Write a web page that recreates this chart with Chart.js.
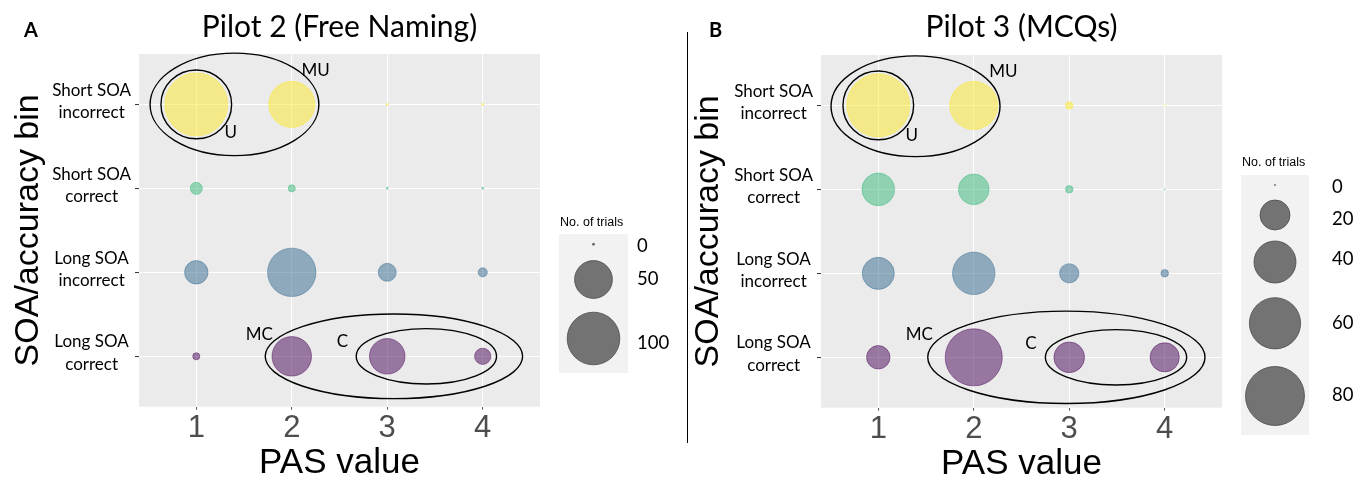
<!DOCTYPE html>
<html>
<head>
<meta charset="utf-8">
<script src="https://cdn.jsdelivr.net/npm/chart.js@4.4.0/dist/chart.umd.min.js"></script>
<style>
  html, body { margin: 0; padding: 0; background: #ffffff; }
  #wrap { position: relative; width: 1367px; height: 482px; overflow: hidden; }
  #wrap canvas { position: absolute; top: 0; }
  #chartA { left: 0; }
  #chartB { left: 688px; }
  #divider { position: absolute; left: 687px; top: 32px; width: 1.4px; height: 411px; background: #000; }
</style>
</head>
<body>
<div id="wrap">
  <canvas id="chartA" width="688" height="482"></canvas>
  <div id="divider"></div>
  <canvas id="chartB" width="679" height="482"></canvas>
</div>
<script>
// PAS ratings on the x axis and the SOA/accuracy bins on the y axis (top to bottom)
const pasValues = [1, 2, 3, 4];
const binLabels = [
  ['Short SOA', 'incorrect'],
  ['Short SOA', 'correct'],
  ['Long SOA', 'incorrect'],
  ['Long SOA', 'correct']
];

// Number of trials per bin, one entry per PAS value (1-4)
const pilot2ShortIncorrect = [145, 76, 0, 0];
const pilot2ShortCorrect   = [4, 1, 0, 0];
const pilot2LongIncorrect  = [18, 84, 10, 2];
const pilot2LongCorrect    = [1, 55, 44, 8];

const pilot3ShortIncorrect = [92, 53, 1, 0];
const pilot3ShortCorrect   = [24, 21, 1, 0];
const pilot3LongIncorrect  = [23, 41, 8, 1];
const pilot3LongCorrect    = [12, 75, 21, 19];

// Size legend breaks
const pilot2SizeBreaks = [0, 50, 100];
const pilot3SizeBreaks = [0, 20, 40, 60, 80];

// viridis colours for the four bins
const binColours = ['253,231,37', '53,183,121', '49,104,142', '68,1,84'];

const CALIBRI_LIKE = 'Lato, "Open Sans", sans-serif';
const ARIAL_LIKE = '"Liberation Sans", Arial, sans-serif';

// bubble radius grows with the square root of the trial count (area scale)
function areaRadius(base, slope) {
  return n => base + slope * Math.sqrt(n);
}

function buildDatasets(rows, radius) {
  return rows.map((counts, b) => ({
    label: binLabels[b].join(' '),
    data: pasValues.map((x, i) => ({ x: x, y: b + 1, r: radius(counts[i]), n: counts[i] })),
    backgroundColor: 'rgba(' + binColours[b] + ',0.5)',
    borderColor: 'rgba(' + binColours[b] + ',0.55)',
    borderWidth: 0.8,
    hoverRadius: 0
  }));
}

const panelPlugin = {
  id: 'panelDecor',
  beforeDraw(chart) {
    const { ctx, chartArea: a } = chart;
    ctx.save();
    ctx.fillStyle = '#ebebeb';
    ctx.fillRect(a.left, a.top, a.right - a.left, a.bottom - a.top);
    ctx.restore();
  },
  afterDatasetsDraw(chart, args, opts) {
    const { ctx, scales: { x, y } } = chart;
    const unitX = Math.abs(x.getPixelForValue(2) - x.getPixelForValue(1));
    const unitY = Math.abs(y.getPixelForValue(2) - y.getPixelForValue(1));
    ctx.save();
    ctx.strokeStyle = '#000';
    ctx.lineWidth = 1.4;
    opts.groups.forEach(g => {
      ctx.beginPath();
      ctx.ellipse(x.getPixelForValue(g.cx), y.getPixelForValue(g.cy), g.rx * unitX, g.ry * unitY, 0, 0, Math.PI * 2);
      ctx.stroke();
    });
    ctx.fillStyle = '#000';
    ctx.font = '17px ' + CALIBRI_LIKE;
    ctx.textAlign = 'center';
    ctx.textBaseline = 'middle';
    opts.groupLabels.forEach(l => {
      ctx.fillText(l.text, x.getPixelForValue(l.x), y.getPixelForValue(l.y));
    });
    ctx.restore();
  },
  afterDraw(chart, args, opts) {
    const { ctx, chartArea: a } = chart;
    ctx.save();
    // panel letter and title
    ctx.fillStyle = '#000';
    ctx.textBaseline = 'alphabetic';
    ctx.textAlign = 'left';
    ctx.font = 'bold 20px ' + CALIBRI_LIKE;
    ctx.fillText(opts.letter, opts.letterX, 37);
    ctx.textAlign = 'center';
    ctx.font = '30px ' + CALIBRI_LIKE;
    ctx.fillText(opts.title, (a.left + a.right) / 2, 37);

    // size legend
    const lg = opts.legend;
    ctx.textAlign = 'left';
    ctx.font = '12.5px ' + ARIAL_LIKE;
    ctx.fillText('No. of trials', lg.left + 1, lg.titleBaseline);
    ctx.fillStyle = '#f2f2f2';
    ctx.fillRect(lg.left, lg.top, lg.width, lg.height);
    const cx = lg.left + lg.width / 2;
    lg.breaks.forEach((v, i) => {
      ctx.beginPath();
      ctx.arc(cx, lg.keyY[i], opts.radius(v), 0, Math.PI * 2);
      ctx.fillStyle = '#737373';
      ctx.fill();
      ctx.lineWidth = 0.8;
      ctx.strokeStyle = '#4a4a4a';
      ctx.stroke();
      ctx.fillStyle = '#000';
      ctx.font = '18.5px ' + CALIBRI_LIKE;
      ctx.textBaseline = 'middle';
      ctx.fillText(String(v), lg.labelX, lg.labelY[i]);
    });
    ctx.restore();
  }
};

function makeChart(canvasId, rows, radius, layout, decor) {
  return new Chart(document.getElementById(canvasId), {
    type: 'bubble',
    data: { datasets: buildDatasets(rows, radius) },
    plugins: [panelPlugin],
    options: {
      responsive: false,
      animation: false,
      devicePixelRatio: 1,
      events: [],
      clip: false,
      layout: { padding: { left: 0, right: layout.right, top: layout.top, bottom: 0 } },
      plugins: {
        legend: { display: false },
        tooltip: { enabled: false },
        panelDecor: decor
      },
      scales: {
        x: {
          type: 'linear',
          min: 0.4,
          max: 4.6,
          afterBuildTicks: s => { s.ticks = pasValues.map(v => ({ value: v })); },
          afterFit: s => { s.height = layout.xHeight; },
          grid: { color: '#ffffff', lineWidth: 1.1, tickLength: 3, tickColor: '#555555', tickWidth: 1 },
          border: { display: false },
          ticks: {
            color: '#4d4d4d',
            padding: 3,
            font: { family: ARIAL_LIKE, size: 31, lineHeight: 1.0 },
            callback: v => String(v)
          },
          title: {
            display: true,
            text: 'PAS value',
            color: '#000',
            font: { family: ARIAL_LIKE, size: 35, lineHeight: 1.0 },
            padding: { top: 0, bottom: layout.xTitlePad }
          }
        },
        y: {
          type: 'linear',
          reverse: true,
          min: 0.4,
          max: 4.6,
          afterBuildTicks: s => { s.ticks = binLabels.map((l, i) => ({ value: i + 1 })); },
          afterFit: s => { s.width = layout.yWidth; },
          grid: { color: '#ffffff', lineWidth: 1.1, tickLength: 4, tickColor: '#333333', tickWidth: 1 },
          border: { display: false },
          ticks: {
            color: '#000',
            padding: 4,
            crossAlign: 'center',
            labelOffset: -3,
            font: { family: CALIBRI_LIKE, size: 17, lineHeight: 1.33 },
            callback: v => binLabels[v - 1]
          },
          title: {
            display: true,
            text: 'SOA/accuracy bin',
            color: '#000',
            font: { family: ARIAL_LIKE, size: 34, lineHeight: 1.0 },
            padding: { top: layout.yTitlePad, bottom: 0 }
          }
        }
      }
    }
  });
}

const pilot2Radius = areaRadius(1.0, 2.53);
const pilot3Radius = areaRadius(0.5, 3.24);

makeChart('chartA',
  [pilot2ShortIncorrect, pilot2ShortCorrect, pilot2LongIncorrect, pilot2LongCorrect],
  pilot2Radius,
  { right: 148, top: 54, xHeight: 75.3, yWidth: 139, xTitlePad: 1, yTitlePad: 12 },
  {
    letter: 'A', letterX: 24, title: 'Pilot 2 (Free Naming)', radius: pilot2Radius,
    groups: [
      { cx: 1.00, cy: 1, rx: 0.37, ry: 0.41 },
      { cx: 1.40, cy: 1, rx: 0.884, ry: 0.61 },
      { cx: 3.41, cy: 4, rx: 0.735, ry: 0.33 },
      { cx: 3.07, cy: 4, rx: 1.348, ry: 0.504 }
    ],
    groupLabels: [
      { text: 'MU', x: 2.25, y: 0.60 },
      { text: 'U', x: 1.36, y: 1.34 },
      { text: 'MC', x: 1.66, y: 3.74 },
      { text: 'C', x: 2.53, y: 3.82 }
    ],
    legend: {
      left: 559, top: 234, width: 69, height: 139, titleBaseline: 226,
      breaks: pilot2SizeBreaks, keyY: [244.3, 279.5, 338.5],
      labelX: 637, labelY: [246.3, 279.5, 342.8]
    }
  });

makeChart('chartB',
  [pilot3ShortIncorrect, pilot3ShortCorrect, pilot3LongIncorrect, pilot3LongCorrect],
  pilot3Radius,
  { right: 145, top: 55, xHeight: 74.3, yWidth: 133, xTitlePad: 0, yTitlePad: 4 },
  {
    letter: 'B', letterX: 21, title: 'Pilot 3 (MCQs)', radius: pilot3Radius,
    groups: [
      { cx: 1.00, cy: 1, rx: 0.37, ry: 0.41 },
      { cx: 1.39, cy: 1.01, rx: 0.885, ry: 0.60 },
      { cx: 3.49, cy: 4, rx: 0.74, ry: 0.33 },
      { cx: 2.97, cy: 4, rx: 1.452, ry: 0.55 }
    ],
    groupLabels: [
      { text: 'MU', x: 2.31, y: 0.60 },
      { text: 'U', x: 1.35, y: 1.36 },
      { text: 'MC', x: 1.43, y: 3.73 },
      { text: 'C', x: 2.60, y: 3.84 }
    ],
    legend: {
      left: 553, top: 175, width: 68, height: 260, titleBaseline: 166,
      breaks: pilot3SizeBreaks, keyY: [185, 215, 262, 323.3, 396],
      labelX: 644, labelY: [186.7, 219.3, 259.3, 322.7, 395.3]
    }
  });
</script>
</body>
</html>
